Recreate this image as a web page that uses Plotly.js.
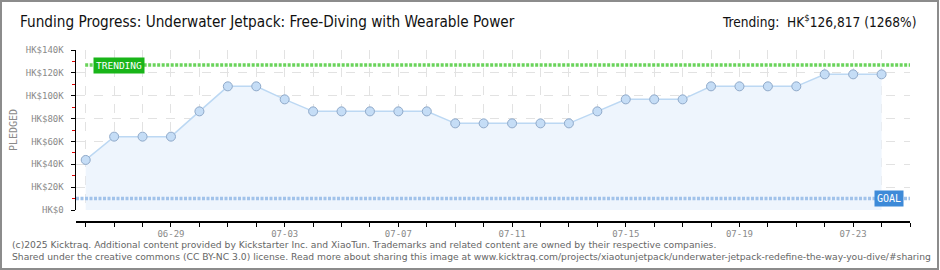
<!DOCTYPE html>
<html>
<head>
<meta charset="utf-8">
<script src="https://cdn.plot.ly/plotly-3.0.1.min.js"></script>
<style>
html,body{margin:0;padding:0;background:#fff;}
#chart{width:940px;height:270px;}
#frame{position:absolute;left:0;top:0;width:935px;height:266px;border:2px solid #8c8c8c;pointer-events:none;}
</style>
</head>
<body>
<div id="chart"></div>
<div id="frame"></div>
<script>
// ---- data ----
const dates = ['2025-06-26','2025-06-27','2025-06-28','2025-06-29','2025-06-30','2025-07-01','2025-07-02',
  '2025-07-03','2025-07-04','2025-07-05','2025-07-06','2025-07-07','2025-07-08','2025-07-09','2025-07-10',
  '2025-07-11','2025-07-12','2025-07-13','2025-07-14','2025-07-15','2025-07-16','2025-07-17','2025-07-18',
  '2025-07-19','2025-07-20','2025-07-21','2025-07-22','2025-07-23','2025-07-24'];
const pledged = [43800,64200,64200,64200,86300,108200,108200,96800,86300,86300,86300,86300,86300,
  75800,75800,75800,75800,75800,86300,96800,96800,96800,108200,108200,108200,108200,118700,118700,118700];
const trendValue = 126817;
const goalValue = 10000;
const yTickVals = [0,20000,40000,60000,80000,100000,120000,140000];
const yTickText = ['HK$0','HK$20K','HK$40K','HK$60K','HK$80K','HK$100K','HK$120K','HK$140K'];
const titleText = 'Funding Progress: Underwater Jetpack: Free-Diving with Wearable Power';
const trendText = 'Trending:  HK<sup>$</sup>126,817 (1268%)';
const footer1 = '(c)2025 Kicktraq. Additional content provided by Kickstarter Inc. and XiaoTun. Trademarks and related content are owned by their respective companies.';
const footer2 = 'Shared under the creative commons (CC BY-NC 3.0) license. Read more about sharing this image at www.kicktraq.com/projects/xiaotunjetpack/underwater-jetpack-redefine-the-way-you-dive/#sharing';

const pixFont = 'DejaVu Sans Mono, monospace';
const DAY = 86400000;

const trace = {
  type: 'scatter', mode: 'lines+markers',
  x: dates, y: pledged,
  fill: 'tozeroy', fillcolor: '#eef5fd',
  line: {color: '#bcd8f3', width: 1.5},
  marker: {size: 9, color: '#c5ddf6', line: {color: '#8fa9c9', width: 1}},
  hoverinfo: 'skip'
};

const layout = {
  width: 940, height: 270,
  margin: {l: 76, r: 30, t: 50, b: 49},
  paper_bgcolor: '#fff', plot_bgcolor: '#fff',
  showlegend: false,
  title: {
    text: titleText, x: 20/940, xanchor: 'left', xref: 'container',
    y: 1 - 22/270, yanchor: 'middle', yref: 'container',
    font: {family: 'DejaVu Sans Condensed, DejaVu Sans', size: 15.2, color: '#111'}
  },
  xaxis: {
    type: 'date',
    range: ['2025-06-25 15:48', '2025-07-25 00:00'],
    anchor: 'free', position: 0,
    showline: true, linecolor: '#000', linewidth: 1.5,
    ticks: 'outside', ticklen: 4, tickcolor: '#000', tickwidth: 1,
    tick0: '2025-06-29', dtick: 4*DAY, tickformat: '%m-%d',
    tickfont: {family: pixFont, size: 9, color: '#8a8a8a'},
    ticklabelstandoff: 0,
    showgrid: true, gridcolor: '#e2e2e2', griddash: 'dash', gridwidth: 1,
    minor: {dtick: DAY, tick0: '2025-06-26', ticks: 'outside', ticklen: 4, tickcolor: '#000',
            showgrid: true, gridcolor: '#e2e2e2', griddash: 'dash', gridwidth: 1},
    zeroline: false, fixedrange: true
  },
  yaxis: {
    domain: [11/171, 1],
    range: [0, 140000],
    tickvals: yTickVals, ticktext: yTickText,
    showline: true, linecolor: '#000', linewidth: 1.5,
    ticks: 'outside', ticklen: 4, tickcolor: '#000',
    tickfont: {family: pixFont, size: 9, color: '#8a8a8a'},
    ticklabelstandoff: 5,
    showgrid: true, gridcolor: '#e2e2e2', griddash: 'dash', gridwidth: 1,
    minor: {dtick: 10000, ticks: 'outside', ticklen: 3, tickcolor: '#e00000', showgrid: false},
    zeroline: false, fixedrange: true
  },
  shapes: [
    {type: 'line', xref: 'paper', x0: 0.011, x1: 1, yref: 'y', y0: trendValue, y1: trendValue,
     line: {color: '#6ad35b', width: 3.5, dash: '3px,1.5px'}, layer: 'above'},
    {type: 'line', xref: 'paper', x0: 0, x1: 1, yref: 'y', y0: goalValue, y1: goalValue,
     line: {color: '#a2c3ea', width: 3.5, dash: '3px,1.5px'}, layer: 'above'}
  ],
  annotations: [
    {xref: 'paper', yref: 'y', x: 17/834, y: trendValue, xanchor: 'left', yanchor: 'middle',
     text: 'TRENDING', showarrow: false, bgcolor: '#19b519', borderpad: 2,
     font: {family: pixFont, size: 9.5, color: '#fff'}},
    {xref: 'paper', yref: 'y', x: 828/834, y: goalValue, xanchor: 'right', yanchor: 'middle',
     text: 'GOAL', showarrow: false, bgcolor: '#3d8ad8', borderpad: 2,
     font: {family: pixFont, size: 10, color: '#fff'}},
    {xref: 'paper', yref: 'paper', x: 842/834, y: (221-21)/171, xanchor: 'right', yanchor: 'middle',
     text: trendText, showarrow: false,
     font: {family: 'DejaVu Sans Condensed, DejaVu Sans', size: 13.6, color: '#111'}},
    {xref: 'paper', yref: 'paper', x: -63/834, y: (221-130)/171, xanchor: 'center', yanchor: 'middle',
     text: 'PLEDGED', textangle: -90, showarrow: false,
     font: {family: pixFont, size: 10, color: '#8a8a8a'}},
    {xref: 'paper', yref: 'paper', x: -66/834, y: (221-244)/171, xanchor: 'left', yanchor: 'middle',
     text: footer1, showarrow: false,
     font: {family: 'DejaVu Sans, sans-serif', size: 9.2, color: '#666'}},
    {xref: 'paper', yref: 'paper', x: -66/834, y: (221-256)/171, xanchor: 'left', yanchor: 'middle',
     text: footer2, showarrow: false,
     font: {family: 'DejaVu Sans, sans-serif', size: 9.2, color: '#666'}}
  ]
};

Plotly.newPlot('chart', [trace], layout, {staticPlot: true, displayModeBar: false});
</script>
</body>
</html>
